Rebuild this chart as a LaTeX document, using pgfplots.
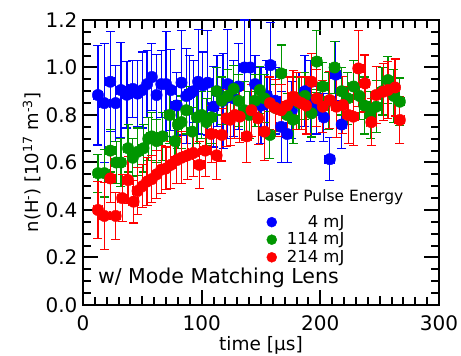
\documentclass[border=0pt]{standalone}
\usepackage{fontspec}
\setmainfont{DejaVu Sans}
\usepackage{pgfplots}
\pgfplotsset{compat=1.18}

\definecolor{cblue}{RGB}{0,0,255}
\definecolor{cgreen}{RGB}{0,150,0}
\definecolor{cred}{RGB}{255,0,0}

% t [us], n(H-) [1e17 m^-3], error
\pgfplotstableread{
t v e
12.6 0.884 0.21
18 0.85 0.25
23 0.94 0.21
27.5 0.85 0.16
32 0.905 0.20
37 0.885 0.14
42 0.91 0.12
46 0.89 0.14
50 0.905 0.16
54 0.93 0.14
58 0.96 0.14
62 0.884 0.17
66 0.93 0.14
70 0.93 0.22
74 0.905 0.17
79 0.84 0.14
83 0.936 0.22
87 0.88 0.20
90 0.89 0.16
93 0.90 0.13
97 0.94 0.22
101 0.925 0.14
105 0.936 0.22
110 0.835 0.17
113 0.90 0.15
118 0.86 0.20
122 0.93 0.23
127 0.87 0.16
131 0.92 0.18
136 1.0 0.20
141 1.0 0.22
145 0.93 0.12
150 0.84 0.16
155 0.88 0.15
158 1.01 0.18
162 0.86 0.14
167 0.75 0.15
172 0.72 0.12
176 0.82 0.12
182 0.86 0.12
187 0.90 0.15
192 0.86 0.17
197 0.82 0.10
203 0.79 0.10
208 0.614 0.09
213 0.97 0.14
218 0.76 0.10
}\lowE

\pgfplotstableread{
t v e
12.6 0.555 0.08
18 0.555 0.10
23 0.65 0.09
28 0.60 0.09
32 0.60 0.10
38 0.66 0.10
42 0.62 0.08
46 0.645 0.10
51 0.66 0.10
55 0.70 0.09
58 0.71 0.10
62 0.69 0.09
67 0.71 0.10
73 0.80 0.12
77.5 0.69 0.09
80 0.76 0.10
83 0.77 0.11
87 0.82 0.10
92 0.73 0.10
96 0.79 0.11
100 0.80 0.10
104 0.77 0.10
108 0.79 0.11
112.6 0.90 0.10
117 0.86 0.10
122 0.88 0.11
127 0.91 0.10
131 0.86 0.11
136 0.82 0.12
140 0.80 0.10
145 0.86 0.11
149 0.905 0.10
153 0.87 0.10
157.5 0.716 0.10
162 0.83 0.10
167 0.975 0.12
172 0.80 0.09
177 0.78 0.10
182 0.85 0.11
187 0.88 0.10
192.6 0.807 0.10
197 1.025 0.13
202 0.92 0.10
207 0.86 0.12
212 1.0 0.11
218 0.90 0.10
223 0.87 0.11
228 0.92 0.11
233 0.88 0.10
237 0.84 0.12
242 0.80 0.10
247 0.835 0.11
252 0.90 0.10
257 0.947 0.10
262 0.88 0.11
267 0.856 0.10
}\midE

\pgfplotstableread{
t v e
12.6 0.40 0.12
18 0.375 0.14
23 0.533 0.10
27.5 0.375 0.10
33 0.45 0.10
38 0.526 0.10
42.6 0.435 0.09
46 0.48 0.10
50 0.50 0.09
54 0.52 0.10
58 0.53 0.10
62 0.55 0.10
66 0.57 0.10
70 0.575 0.09
74 0.59 0.10
79 0.61 0.10
83 0.62 0.11
88 0.63 0.10
93 0.64 0.10
98 0.59 0.10
103 0.65 0.11
108 0.72 0.12
112.6 0.63 0.10
117 0.716 0.11
121 0.786 0.12
124 0.78 0.11
128 0.80 0.10
132 0.793 0.11
138 0.71 0.11
142 0.82 0.11
147.6 0.786 0.11
153 0.73 0.12
157.5 0.85 0.11
162 0.83 0.12
167 0.82 0.11
172 0.84 0.12
177 0.877 0.11
180 0.86 0.12
184 0.85 0.11
188 0.84 0.12
192.6 0.94 0.12
197 0.87 0.12
202 0.835 0.11
208 0.863 0.12
213.6 0.835 0.13
219 0.842 0.12
223.5 0.80 0.12
227.7 0.793 0.12
232 0.996 0.16
237.6 0.933 0.12
243 0.77 0.10
247 0.884 0.12
253 0.898 0.12
257 0.905 0.12
263 0.916 0.12
267 0.779 0.10
}\highE

\begin{document}
\begin{tikzpicture}
\begin{axis}[
  name=ax,
  scale only axis, width=356pt, height=285pt,
  xmin=0, xmax=300, ymin=0, ymax=1.2,
  xtick={0,100,200,300}, ytick={0,0.2,0.4,0.6,0.8,1.0,1.2},
  minor x tick num=9, minor y tick num=3,
  extra x ticks={50,150,250}, extra x tick labels={},
  extra x tick style={major tick length=9pt},
  tick align=inside, major tick length=15pt, minor tick length=8pt,
  axis line style={line width=2.4pt},
  every tick/.style={line width=2pt, black},
  /pgf/number format/assume math mode=true,
  tick label style={font=\fontsize{20}{20}\selectfont},
  yticklabel style={xshift=-2pt, /pgf/number format/.cd, fixed, fixed zerofill, precision=1},
  xticklabel style={yshift=-7pt, /pgf/number format/.cd, fixed},
  scaled ticks=false,
  xlabel={time [µs]},
  ylabel={n(H\textsuperscript{-}) [10\textsuperscript{17} m\textsuperscript{-3}]},
  xlabel style={font=\fontsize{18.5}{18.5}\selectfont, yshift=1pt},
  ylabel style={font=\fontsize{18}{18}\selectfont, yshift=-2pt},
  clip=true,
  legend style={draw=none, fill=none, at={(axis cs:152,0.395)}, anchor=north west,
    font=\fontsize{16.5}{16.5}\selectfont, row sep=0pt},
  legend cell align=left,
  legend image code/.code={\fill (0.1cm,0cm) circle (5pt); \path (0.55cm,0cm);},
  error bars/error bar style={line width=1.2pt},
  error bars/error mark options={rotate=90, mark size=4.5pt, line width=1.2pt},
]
\addplot[only marks, mark=*, mark size=5.7pt, color=cblue, fill=cblue,
  error bars/.cd, y dir=both, y explicit, x dir=both, x fixed=4]
  table[x=t, y=v, y error=e] {\lowE};
\addlegendentry{\phantom{11}4 mJ}
\addplot[only marks, mark=*, mark size=5.7pt, color=cgreen, fill=cgreen,
  error bars/.cd, y dir=both, y explicit, x dir=both, x fixed=4]
  table[x=t, y=v, y error=e] {\midE};
\addlegendentry{114 mJ}
\addplot[only marks, mark=*, mark size=5.7pt, color=cred, fill=cred,
  error bars/.cd, y dir=both, y explicit, x dir=both, x fixed=4]
  table[x=t, y=v, y error=e] {\highE};
\addlegendentry{214 mJ}
\node[font=\fontsize{15.5}{15.5}\selectfont] at (axis cs:208,0.455) {Laser Pulse Energy};
\node[font=\fontsize{20.5}{20.5}\selectfont, anchor=west, inner sep=0pt] at (axis cs:12.5,0.115) {w/ Mode Matching Lens};
\end{axis}
\pgfresetboundingbox
\path[use as bounding box] ([shift={(-83pt,-51pt)}]ax.south west) rectangle ([shift={(22pt,20pt)}]ax.north east);
\end{tikzpicture}
\end{document}
